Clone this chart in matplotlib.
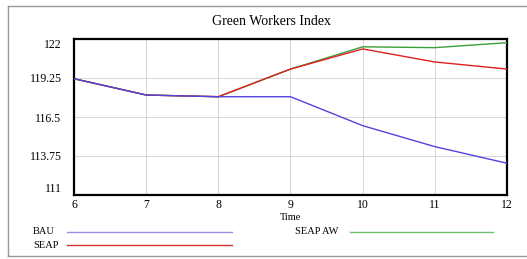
import matplotlib
matplotlib.use("Agg")
import matplotlib.pyplot as plt
from matplotlib.lines import Line2D

plt.rcParams['font.family'] = ['Liberation Serif', 'DejaVu Serif']

# datos
years = [6, 7, 8, 9, 10, 11, 12]
bau = [119.2, 118.05, 117.93, 117.93, 115.89, 114.41, 113.24]
seap = [119.2, 118.05, 117.93, 119.88, 121.3, 120.38, 119.88]
seap_aw = [119.2, 118.05, 117.93, 119.88, 121.45, 121.39, 121.74]

names = ['BAU', 'SEAP', 'SEAP AW']
colors = ['#5244dc', '#e02020', '#3a9e3a']
legend_colors = ['#9a8ee8', '#d83030', '#6fbf6f']

y_ticks = [111, 113.75, 116.5, 119.25, 122]
y_labels = ['111', '113.75', '116.5', '119.25', '122']
x_ticks = [6, 7, 8, 9, 10, 11, 12]

W, H = 527, 259
fig = plt.figure(figsize=(W / 100, H / 100), dpi=100)
ax = fig.add_axes([74 / W, 1 - 195 / H, (507 - 74) / W, (195 - 39) / H])

# green first so red sits on top between 9 and 10
ax.plot(years, seap_aw, color=colors[2], lw=1.0, zorder=3)
ax.plot(years, seap, color=colors[1], lw=1.0, zorder=4)
ax.plot(years, bau, color=colors[0], lw=1.0, zorder=5)

ax.set_xlim(6, 12)
ax.set_ylim(111, 122)
ax.set_xticks(x_ticks)
ax.set_yticks(y_ticks)
ax.set_yticklabels(y_labels)
ax.grid(True, color='#d6d6d6', lw=0.7)
ax.tick_params(length=0, labelsize=8.5)
ax.tick_params(axis='y', pad=9)
ax.tick_params(axis='x', pad=3)
tl = ax.get_yticklabels()
tl[0].set_va('bottom')
tl[-1].set_va('top')
for s in ax.spines.values():
    s.set_linewidth(1.6)
    s.set_color('black')

ax.set_xlabel('Time', fontsize=7.5, labelpad=1)
fig.text(271 / W, 1 - 21 / H, 'Green Workers Index', fontsize=10,
         ha='center', va='center')

# leyenda manual
leg = [(33, 232, 67, 232), (33, 245, 67, 232), (295, 232, 350, 493)]
for i in range(3):
    tx, ty, x0, x1 = leg[i]
    fig.text(tx / W, 1 - ty / H, names[i], fontsize=7.5, va='center')
    fig.add_artist(Line2D([x0 / W, x1 / W], [1 - ty / H, 1 - ty / H],
                          color=legend_colors[i], lw=1.0,
                          transform=fig.transFigure))

# marco exterior gris
for xs, ys in [([8, 8], [6, 256]), ([8, W], [6, 6]), ([8, W], [256, 256])]:
    fig.add_artist(Line2D([x / W for x in xs], [1 - y / H for y in ys],
                          color='#999999', lw=1.0, transform=fig.transFigure))

fig.savefig('out.png', dpi=100)
